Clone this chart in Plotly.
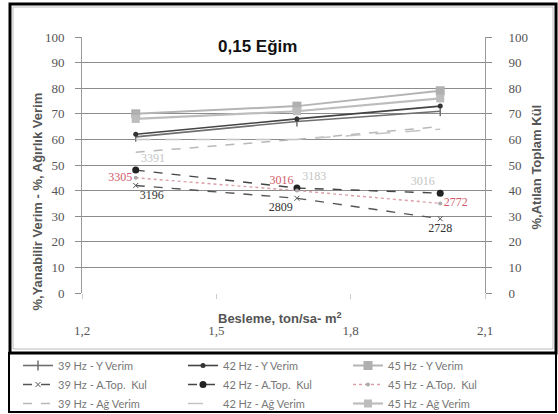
import plotly.graph_objects as go

# ---------------- data ----------------
x_feed = [1.32, 1.68, 2.0]

y_verim_39 = [61, 67, 71]
y_verim_42 = [62, 68, 73]
y_verim_45 = [70, 73, 79]

kul_39 = [42, 37, 29]
kul_42 = [48, 41, 39]
kul_45 = [45, 40, 35]

ag_verim_39 = [55, 60, 65]
ag_verim_42 = [60, 60, 64]
ag_verim_45 = [68, 71, 76]

lbl_39 = ["3196", "2809", "2728"]
lbl_42 = ["3391", "3183", "3016"]
lbl_45 = ["3305", "3016", "2772"]

x_ticks = [1.2, 1.5, 1.8, 2.1]
x_tick_text = ["1,2", "1,5", "1,8", "2,1"]
y_ticks = list(range(0, 101, 10))

# ---------------- geometry helpers ----------------
W, H = 558, 414
L, R, T, B = 82, 73, 37, 121
PW, PH = W - L - R, H - T - B


def px(xp):
    return (xp - L) / PW


def py(yp):
    return (H - B - yp) / PH


fig = go.Figure()

# Y Verim
fig.add_trace(go.Scatter(x=x_feed, y=y_verim_39, name="39 Hz - Y Verim", mode="lines+markers",
                         legend="legend", legendrank=1,
                         line=dict(color="#6f6f6f", width=1.6),
                         marker=dict(symbol="line-ns", size=7, line=dict(color="#6f6f6f", width=1.5))))
fig.add_trace(go.Scatter(x=x_feed, y=y_verim_42, name="42 Hz - Y Verim", mode="lines+markers",
                         legend="legend2", legendrank=1,
                         line=dict(color="#444444", width=1.6),
                         marker=dict(symbol="circle", size=5, color="#333333")))
fig.add_trace(go.Scatter(x=x_feed, y=y_verim_45, name="45 Hz - Y Verim", mode="lines+markers",
                         legend="legend3", legendrank=1,
                         line=dict(color="#b4b4b4", width=2),
                         marker=dict(symbol="square", size=9, color="#b0b0b0")))

# A. Top. Kül (secondary axis)
fig.add_trace(go.Scatter(x=x_feed, y=kul_39, name="39 Hz - A.Top.  Kul", mode="lines+markers+text",
                         legend="legend", legendrank=2,
                         yaxis="y2", line=dict(color="#555555", width=1.4, dash="dash"),
                         marker=dict(symbol="x-thin", size=5, line=dict(color="#555555", width=1)),
                         text=lbl_39, textposition=["bottom right", "bottom left", "bottom center"],
                         textfont=dict(family="Liberation Serif", size=12, color="#333333")))
fig.add_trace(go.Scatter(x=x_feed, y=kul_42, name="42 Hz - A.Top.  Kul", mode="lines+markers+text",
                         legend="legend2", legendrank=2,
                         yaxis="y2", line=dict(color="#444444", width=1.4, dash="dash"),
                         marker=dict(symbol="circle", size=7, color="#222222"),
                         text=lbl_42, textposition=["top right", "top right", "top left"],
                         textfont=dict(family="Liberation Serif", size=12, color="#c4c4c4")))
fig.add_trace(go.Scatter(x=x_feed, y=kul_45, name="45 Hz - A.Top.  Kul", mode="lines+markers+text",
                         legend="legend3", legendrank=2,
                         yaxis="y2", line=dict(color="#d9a0a8", width=1.4, dash="dot"),
                         marker=dict(symbol="circle", size=4, color="#aaaaaa"),
                         text=lbl_45, textposition=["middle left", "top left", "middle right"],
                         textfont=dict(family="Liberation Serif", size=12, color="#d05a6a")))

# Ağ Verim
fig.add_trace(go.Scatter(x=x_feed, y=ag_verim_39, name="39 Hz - Ağ Verim", mode="lines",
                         legend="legend", legendrank=3,
                         line=dict(color="#b8b8b8", width=1.5, dash="dash")))
fig.add_trace(go.Scatter(x=x_feed, y=ag_verim_42, name="42 Hz - Ağ Verim", mode="lines",
                         legend="legend2", legendrank=3,
                         line=dict(color="#c4c4c4", width=1.5, dash="longdash")))
fig.add_trace(go.Scatter(x=x_feed, y=ag_verim_45, name="45 Hz - Ağ Verim", mode="lines+markers",
                         legend="legend3", legendrank=3,
                         line=dict(color="#bdbdbd", width=2.2),
                         marker=dict(symbol="square", size=8, color="#bdbdbd")))

tick_font = dict(family="Liberation Serif", size=13, color="#555555")
leg_common = dict(orientation="v", yanchor="top", xanchor="left", tracegroupgap=0,
                  font=dict(family="Lato", size=11, color="#777777"),
                  itemwidth=30, bgcolor="rgba(0,0,0,0)")

fig.update_layout(
    width=W, height=H,
    margin=dict(l=L, r=R, t=T, b=B, autoexpand=False),
    paper_bgcolor="white", plot_bgcolor="white",
    showlegend=True,
    xaxis=dict(range=[1.2, 2.1], tickvals=x_ticks, ticktext=x_tick_text, showgrid=False,
               zeroline=False, showline=False, ticks="outside", ticklen=5, tickcolor="#cccccc",
               ticklabelstandoff=20, tickfont=tick_font),
    yaxis=dict(range=[0, 100], tickvals=y_ticks, showgrid=True, gridcolor="#8c8c8c", gridwidth=1,
               zeroline=False, showline=True, linecolor="#999999", ticks="outside", ticklen=6,
               tickcolor="#8c8c8c", ticklabelstandoff=8, tickfont=tick_font),
    yaxis2=dict(range=[0, 100], tickvals=y_ticks, overlaying="y", side="right", showgrid=False,
                zeroline=False, showline=True, linecolor="#999999", ticks="outside", ticklen=6,
                tickcolor="#8c8c8c", ticklabelstandoff=14, tickfont=tick_font),
    legend=dict(x=px(18), y=py(351), **leg_common),
    legend2=dict(x=px(183), y=py(351), **leg_common),
    legend3=dict(x=px(348), y=py(351), **leg_common),
    shapes=[
        dict(type="rect", xref="paper", yref="paper", x0=px(10), x1=px(556), y0=py(353), y1=py(4),
             line=dict(color="black", width=3), layer="above"),
        dict(type="rect", xref="paper", yref="paper", x0=px(13), x1=px(553), y0=py(349), y1=py(7),
             line=dict(color="#bbbbbb", width=1), layer="above"),
        dict(type="rect", xref="paper", yref="paper", x0=px(9), x1=px(556), y0=py(412), y1=py(353),
             line=dict(color="black", width=2), layer="above"),
    ],
    annotations=[
        dict(text="<b>0,15 Eğim</b>", xref="paper", yref="paper", x=px(257), y=py(35),
             showarrow=False, font=dict(family="Liberation Sans", size=17, color="#111111"),
             bgcolor="white"),
        dict(text="<b>Besleme, ton/sa- m<sup>2</sup></b>", xref="paper", yref="paper",
             x=px(280), y=py(328), showarrow=False,
             font=dict(family="Liberation Sans", size=13, color="#555555")),
        dict(text="<b>%,Yanabilir Verim - %, Ağırlık Verim</b>", xref="paper", yref="paper",
             x=px(27), y=py(202), textangle=-90, showarrow=False,
             font=dict(family="Liberation Sans", size=13, color="#555555")),
        dict(text="<b>%,Atılan Toplam Kül</b>", xref="paper", yref="paper",
             x=px(545), y=py(167), textangle=-90, showarrow=False,
             font=dict(family="Liberation Sans", size=13, color="#555555")),
    ],
)

fig.write_html("out.html")
